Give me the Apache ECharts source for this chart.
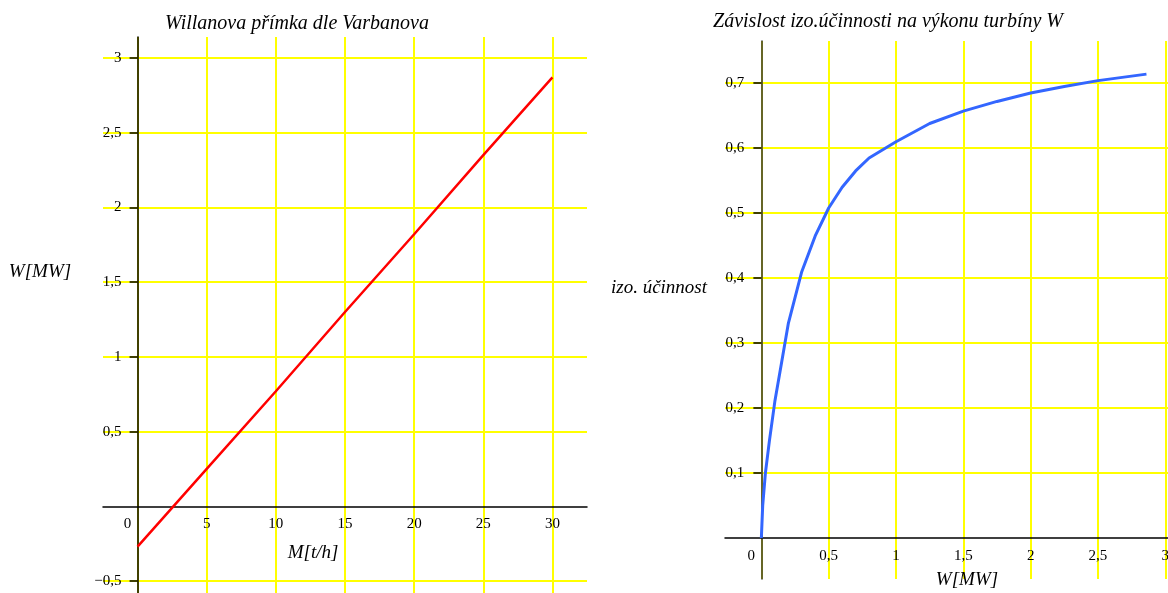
<!DOCTYPE html>
<html>
<head>
<meta charset="utf-8">
<script src="https://cdn.jsdelivr.net/npm/echarts@6/dist/echarts.min.js"></script>
<style>
  html, body { margin: 0; padding: 0; background: #ffffff; }
  #chart { width: 1168px; height: 593px; }
</style>
</head>
<body>
<div id="chart"></div>
<script>
// Willan line: steam flow M [t/h] -> turbine power W [MW]
const flowM  = [0, 5, 10, 15, 20, 25, 30];
const powerW = [-0.27, 0.25, 0.77, 1.30, 1.82, 2.35, 2.87];

// Isentropic efficiency as a function of turbine power W [MW]
const turbineW = [0, 0.01, 0.03, 0.06, 0.1, 0.15, 0.2, 0.3, 0.4, 0.5, 0.6, 0.7, 0.8, 1.0, 1.25, 1.5, 1.75, 2.0, 2.25, 2.5, 2.86];
const effIzo   = [0, 0.05, 0.1, 0.15, 0.21, 0.27, 0.33, 0.41, 0.465, 0.508, 0.54, 0.565, 0.585, 0.61, 0.638, 0.657, 0.672, 0.685, 0.695, 0.704, 0.714];

// Tick values
const leftXTicks  = [0, 5, 10, 15, 20, 25, 30];
const leftYTicks  = [-0.5, 0.5, 1, 1.5, 2, 2.5, 3];
const rightXTicks = [0, 0.5, 1, 1.5, 2, 2.5, 3];
const rightYTicks = [0.1, 0.2, 0.3, 0.4, 0.5, 0.6, 0.7];

const SERIF = '"Liberation Serif", "Times New Roman", serif';
const YELLOW = '#ffff00';

// plot frames and visible value ranges
const gridL = { left: 103, width: 484, top: 37, height: 556 };
const gridR = { left: 725, width: 443, top: 41, height: 538 };
const rangeLX = [-2.5, 32.5], rangeLY = [-0.58, 3.14];
const rangeRX = [-0.27, 3.02], rangeRY = [-0.063, 0.765];

// axes cross at the origin: shift each axis from the frame edge to the zero line
const zeroShift = (range, size) => -((0 - range[0]) / (range[1] - range[0])) * size;

// decimal comma, proper minus sign
const fmt = v => (v < 0 ? '\u2212' : '') + String(Math.abs(v)).replace('.', ',');
// origin "0" sits to the left of the vertical axis
const fmtX = v => v === 0 ? '{z|0}' : fmt(v);

const labelBase = { fontFamily: SERIF, fontSize: 15, color: '#000' };
const zeroRich = { z: { fontFamily: SERIF, fontSize: 15, color: '#000', padding: [0, 20, 0, 0] } };
const nameFont = { fontFamily: SERIF, fontStyle: 'italic', fontSize: 19, color: '#000' };

const textStyle = (text, size) => ({
  text, font: 'italic ' + size + 'px ' + SERIF, fill: '#000', textAlign: 'center', textVerticalAlign: 'middle'
});

const chart = echarts.init(document.getElementById('chart'), null, { renderer: 'canvas' });

chart.setOption({
  backgroundColor: '#ffffff',
  animation: false,
  graphic: [
    // chart titles
    { type: 'text', x: 297, y: 24, style: textStyle('Willanova přímka dle Varbanova', 20) },
    { type: 'text', x: 888, y: 22, style: textStyle('Závislost izo.účinnosti na výkonu turbíny W', 20) },
    // vertical axis titles, written horizontally beside the axes
    { type: 'text', x: 40, y: 272, style: textStyle('W[MW]', 19) },
    { type: 'text', x: 659, y: 288, style: textStyle('izo. účinnost', 19) }
  ],
  grid: [
    { ...gridL, outerBoundsMode: 'none', containLabel: false },
    { ...gridR, outerBoundsMode: 'none', containLabel: false }
  ],
  xAxis: [
    {
      type: 'value', gridIndex: 0, min: rangeLX[0], max: rangeLX[1],
      position: 'bottom', offset: zeroShift(rangeLY, gridL.height),
      axisLine: { onZero: false, lineStyle: { color: '#000', width: 1.5 } },
      axisTick: { show: false, customValues: leftXTicks },
      axisLabel: { customValues: leftXTicks, formatter: fmtX, margin: 10, rich: zeroRich, ...labelBase },
      splitLine: { show: true, lineStyle: { color: YELLOW, width: 2 } },
      name: 'M[t/h]', nameLocation: 'middle', nameGap: 37, nameMoveOverlap: false,
      nameTextStyle: { ...nameFont, padding: [0, 64, 0, 0] }
    },
    {
      type: 'value', gridIndex: 1, min: rangeRX[0], max: rangeRX[1],
      position: 'bottom', offset: zeroShift(rangeRY, gridR.height),
      axisLine: { onZero: false, lineStyle: { color: '#000', width: 1.5 } },
      axisTick: { show: false, customValues: rightXTicks },
      axisLabel: { customValues: rightXTicks, formatter: fmtX, margin: 10, rich: zeroRich, showMaxLabel: true, ...labelBase },
      splitLine: { show: true, lineStyle: { color: YELLOW, width: 2 } },
      name: 'W[MW]', nameLocation: 'middle', nameGap: 32, nameMoveOverlap: false,
      nameTextStyle: { ...nameFont, padding: [0, 0, 0, 41] }
    }
  ],
  yAxis: [
    {
      type: 'value', gridIndex: 0, min: rangeLY[0], max: rangeLY[1],
      position: 'left', offset: zeroShift(rangeLX, gridL.width),
      axisLine: { onZero: false, lineStyle: { color: '#000', width: 1.5 } },
      axisTick: { show: true, length: 8, customValues: leftYTicks, lineStyle: { color: '#000', width: 1.5 } },
      axisLabel: { customValues: leftYTicks, formatter: fmt, margin: 16, ...labelBase },
      splitLine: { show: true, lineStyle: { color: YELLOW, width: 2 } }
    },
    {
      type: 'value', gridIndex: 1, min: rangeRY[0], max: rangeRY[1],
      position: 'left', offset: zeroShift(rangeRX, gridR.width),
      axisLine: { onZero: false, lineStyle: { color: '#333', width: 1.5 } },
      axisTick: { show: true, length: 8, customValues: rightYTicks, lineStyle: { color: '#000', width: 1.5 } },
      axisLabel: { customValues: rightYTicks, formatter: fmt, margin: 17, ...labelBase },
      splitLine: { show: true, lineStyle: { color: YELLOW, width: 2 } }
    }
  ],
  series: [
    {
      type: 'line', xAxisIndex: 0, yAxisIndex: 0,
      data: flowM.map((m, i) => [m, powerW[i]]),
      showSymbol: false, lineStyle: { color: '#ff0000', width: 2.5 }
    },
    {
      type: 'line', xAxisIndex: 1, yAxisIndex: 1,
      data: turbineW.map((w, i) => [w, effIzo[i]]),
      showSymbol: false, lineStyle: { color: '#3366ff', width: 3 }
    }
  ]
});
</script>
</body>
</html>
